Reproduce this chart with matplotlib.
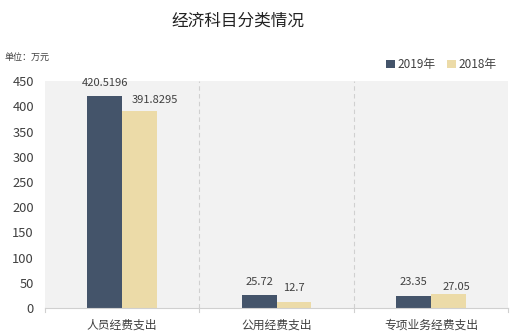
import matplotlib.pyplot as plt
import numpy as np

plt.rcParams['font.family'] = ['Noto Sans CJK SC', 'DejaVu Sans']

categories = ['人员经费支出', '公用经费支出', '专项业务经费支出']
values_2019 = [420.5196, 25.72, 23.35]
values_2018 = [391.8295, 12.7, 27.05]
labels_2019 = ['420.5196', '25.72', '23.35']
labels_2018 = ['391.8295', '12.7', '27.05']

# label offsets in pixels (the original nudges some labels to avoid overlap)
offs_2019 = [(0, 13), (0, 13), (0, 14)]
offs_2018 = [(15, 11), (0, 14), (8, 7)]

c2019 = '#44546a'
c2018 = '#ecdba8'
txt = '#404040'

fig = plt.figure(figsize=(5.22, 3.35), dpi=100)
ax = fig.add_axes([0.0862, 0.0806, 0.887, 0.677])
ax.set_facecolor('#f2f2f2')

x = np.arange(len(categories))
w = 0.225
b1 = ax.bar(x - w / 2, values_2019, w, color=c2019, label='2019年')
b2 = ax.bar(x + w / 2, values_2018, w, color=c2018, label='2018年')
for bars, labs, offs in ((b1, labels_2019, offs_2019), (b2, labels_2018, offs_2018)):
    for b, s, o in zip(bars, labs, offs):
        ax.annotate(s, (b.get_x() + b.get_width() / 2, b.get_height()),
                    xytext=o, textcoords='offset pixels',
                    ha='center', va='center', fontsize=8, color=txt)

ax.set_xlim(-0.5, 2.5)
ax.set_ylim(0, 450)
ax.set_yticks(range(0, 451, 50))
ax.tick_params(axis='y', length=0, labelsize=9.3, labelcolor=txt, pad=8)
ax.set_xticks(x)
ax.set_xticklabels(categories)
ax.tick_params(axis='x', length=0, labelsize=8.5, labelcolor=txt, pad=8)
for xb in [-0.5, 0.5, 1.5, 2.5]:
    ax.plot([xb, xb], [0, -8], color='#d0d0d0', lw=0.8, clip_on=False)
for xb in [0.5, 1.5]:
    ax.axvline(xb, color='#d0d0d0', lw=0.8, ls=(0, (4, 3)))
for s in ['top', 'right', 'left']:
    ax.spines[s].set_visible(False)
ax.spines['bottom'].set_color('#d0d0d0')

fig.text(0.455, 0.938, '经济科目分类情况', ha='center', va='center', fontsize=12, color='#222222')
fig.text(0.008, 0.83, '单位：万元', ha='left', va='center', fontsize=6.5, color=txt)
fig.legend(loc='center right', bbox_to_anchor=(0.972, 0.806), ncol=2, frameon=False,
           fontsize=8.5, handlelength=0.7, handleheight=0.7, columnspacing=1.0,
           handletextpad=0.25, labelcolor=txt)

fig.savefig('out.png', dpi=100, facecolor='white')
